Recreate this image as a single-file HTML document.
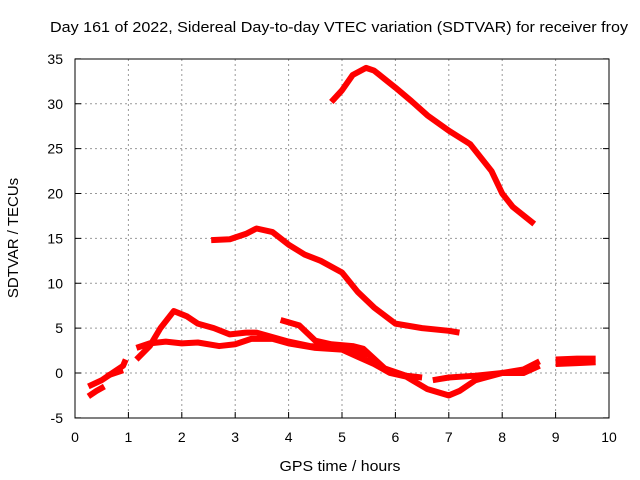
<!DOCTYPE html>
<html><head><meta charset="utf-8"><style>
body{margin:0;background:#fff}
svg{display:block;font-family:"Liberation Sans",sans-serif}
</style></head><body>
<svg id="chart" width="640" height="480">
<text x="50" y="32" font-size="15" textLength="578" lengthAdjust="spacingAndGlyphs">Day 161 of 2022, Sidereal Day-to-day VTEC variation (SDTVAR) for receiver froy</text>
<text x="340" y="471" font-size="15" textLength="121" lengthAdjust="spacingAndGlyphs" text-anchor="middle">GPS time / hours</text>
<text transform="translate(18,238) rotate(-90)" font-size="15" text-anchor="middle">SDTVAR / TECUs</text>
<g id="grid"></g><g id="series"></g>
<rect x="75" y="59" width="534" height="359" fill="none" stroke="#000" stroke-width="1"/>
</svg>
<script>
const xTicks=[0,1,2,3,4,5,6,7,8,9,10];
const yTicks=[-5,0,5,10,15,20,25,30,35];
const track1=[[0.25,-1.5],[0.5,-0.8],[0.7,0.0],[0.9,0.8],[0.95,1.5]];
const track2=[[0.25,-2.6],[0.4,-2.0],[0.55,-1.5]];
const track3=[[0.6,-0.3],[0.9,0.3]];
const track4=[[1.15,1.5],[1.4,3],[1.6,5],[1.85,6.9],[2.1,6.3],[2.3,5.5],[2.6,5.0],[2.9,4.3],[3.2,4.5],[3.4,4.5],[3.7,4.0],[4.0,3.5],[4.4,3.0],[5.0,2.8],[5.5,2.0],[5.8,0.5],[6.0,0]];
const track5=[[1.15,2.8],[1.4,3.3],[1.7,3.5],[2.0,3.3],[2.3,3.4],[2.7,3.0],[3.0,3.2],[3.3,3.8],[3.7,3.8],[4.0,3.3],[4.5,2.8],[5.0,2.6],[5.3,1.8],[5.6,1.0],[5.9,0],[6.2,-0.4],[6.6,-1.8],[7.0,-2.5],[7.2,-2.0],[7.5,-0.8],[8.0,0],[8.4,0],[8.7,0.8]];
const track6=[[3.85,5.9],[4.2,5.3],[4.5,3.6],[4.8,3.2],[5.2,3.0],[5.4,2.7],[5.8,0.5],[6.2,-0.3],[6.5,-0.5]];
const track7=[[6.7,-0.8],[7.0,-0.5],[7.5,-0.3],[8.0,0],[8.4,0.4],[8.7,1.3]];
const track8=[[9.0,1.5],[9.4,1.6],[9.75,1.6]];
const track9=[[9.0,1.0],[9.4,1.1],[9.75,1.2]];
const track10=[[2.55,14.8],[2.9,14.9],[3.2,15.5],[3.4,16.1],[3.7,15.7],[4.0,14.3],[4.3,13.2],[4.6,12.5],[5.0,11.2],[5.3,9.0],[5.6,7.3],[6.0,5.5],[6.5,5.0],[7.0,4.7],[7.2,4.5]];
const track11=[[4.8,30.2],[5.0,31.5],[5.2,33.2],[5.45,34],[5.6,33.7],[6.0,31.8],[6.3,30.3],[6.6,28.7],[7.0,27.0],[7.4,25.5],[7.8,22.5],[8.0,20],[8.2,18.5],[8.6,16.6]];
const tracks=[track1,track2,track3,track4,track5,track6,track7,track8,track9,track10,track11];
const X=h=>75+h*53.4, Y=v=>373-v*8.975;
const NS="http://www.w3.org/2000/svg";
const grid=document.getElementById('grid'), ser=document.getElementById('series');
function mk(tag,attrs,parent){const e=document.createElementNS(NS,tag);for(const k in attrs)e.setAttribute(k,attrs[k]);parent.appendChild(e);return e;}
xTicks.forEach(t=>{const x=X(t);
 if(t>0&&t<10){const g=mk('line',{x1:x,x2:x,y1:59,y2:418,stroke:'#999','stroke-dasharray':'2,3'},grid);
 
 }
 const tk=mk('line',{x1:x,x2:x,y1:418,y2:412,stroke:'#000'},grid);
 
 
 const l=mk('text',{x:x,y:442,'font-size':14,'text-anchor':'middle'},grid);l.textContent=t;
 
 });
yTicks.forEach(t=>{const y=Y(t);
 if(t>-5&&t<35){const g=mk('line',{x1:75,x2:609,y1:y,y2:y,stroke:'#999','stroke-dasharray':'2,3'},grid);
 
 }
 const tk=mk('line',{x1:75,x2:81,y1:y,y2:y,stroke:'#000'},grid);
 
 
 const tk2=mk('line',{x1:603,x2:609,y1:y,y2:y,stroke:'#000'},grid);
 
 
 const l=mk('text',{x:63,y:y+5,'font-size':14,'text-anchor':'end'},grid);l.textContent=t;
 
 });
tracks.forEach((tr,i)=>{const p=mk('polyline',{points:tr.map(d=>X(d[0])+','+Y(d[1])).join(' '),fill:'none',stroke:'#f00','stroke-width':6,'stroke-linejoin':'round'},ser);
 
 });
</script>
</body></html>
